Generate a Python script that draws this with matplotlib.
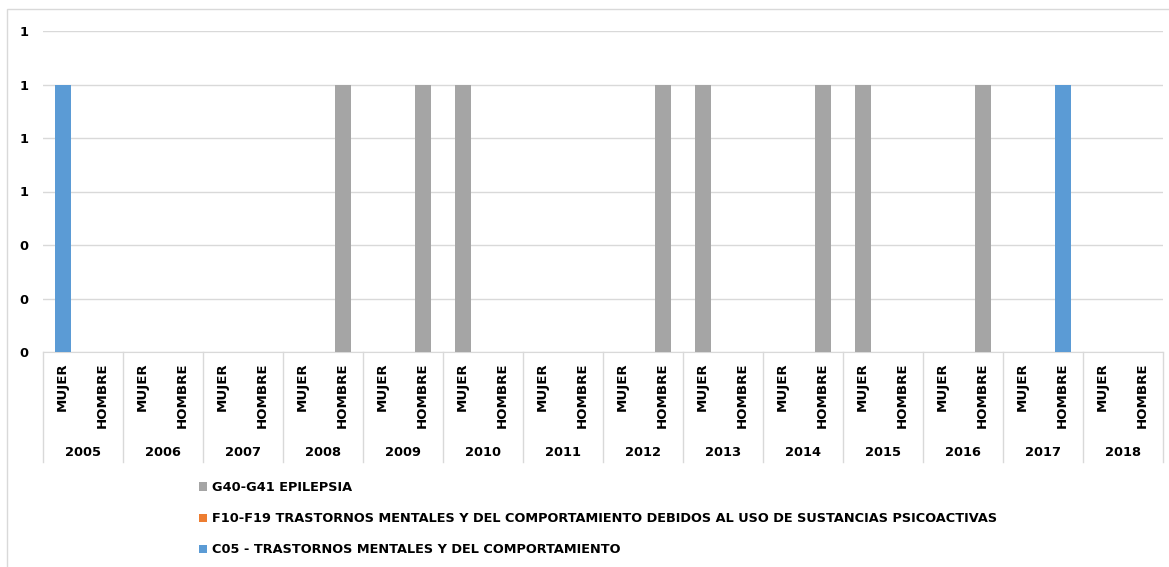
import numpy as np
import matplotlib.pyplot as plt
from matplotlib.lines import Line2D
from matplotlib.patches import Rectangle
from matplotlib.ticker import FormatStrFormatter
import matplotlib.transforms as mtransforms

# --- Data -------------------------------------------------------------------
YEARS = [str(y) for y in range(2005, 2019)]
SEXES = ["MUJER", "HOMBRE"]

# one value per (year, sex), ordered 2005 MUJER, 2005 HOMBRE, 2006 MUJER, ...
C05 = [1, 0,  0, 0,  0, 0,  0, 0,  0, 0,  0, 0,  0, 0,
       0, 0,  0, 0,  0, 0,  0, 0,  0, 0,  0, 1,  0, 0]
F10_F19 = [0] * 28
G40_G41 = [0, 0,  0, 0,  0, 0,  0, 1,  0, 1,  1, 0,  0, 0,
           0, 1,  1, 0,  0, 1,  1, 0,  0, 1,  0, 0,  0, 0]

SERIES_NAMES = [
    "C05 - TRASTORNOS MENTALES Y DEL COMPORTAMIENTO",
    "F10-F19 TRASTORNOS MENTALES Y DEL COMPORTAMIENTO DEBIDOS AL USO DE SUSTANCIAS PSICOACTIVAS",
    "G40-G41 EPILEPSIA",
]
COLORS = ["#5B9BD5", "#ED7D31", "#A5A5A5"]
YTICKS = [0, 0.2, 0.4, 0.6, 0.8, 1.0, 1.2]

GRID = "#D9D9D9"
W, H = 1169, 567
FS = 9.4

fig = plt.figure(figsize=(W / 100, H / 100), dpi=100)
ax = fig.add_axes([42.7 / W, 1 - 352 / H, 1120 / W, 321 / H])

x = np.arange(len(YEARS) * len(SEXES))
bottom = np.zeros(len(x))
handles = []
for name, vals, col in zip(SERIES_NAMES, [C05, F10_F19, G40_G41], COLORS):
    vals = np.array(vals, dtype=float)
    b = ax.bar(x, vals, width=0.4, bottom=bottom, color=col, label=name, zorder=3)
    handles.append(b)
    bottom += vals

ax.set_xlim(-0.5, len(x) - 0.5)
ax.set_ylim(0, 1.2)
ax.set_yticks(YTICKS)
ax.yaxis.set_major_formatter(FormatStrFormatter("%.0f"))
ax.tick_params(axis="y", length=0, pad=10, labelsize=FS)
for t in ax.get_yticklabels():
    t.set_fontweight("bold")
ax.set_xticks([])
ax.grid(axis="y", color=GRID, linewidth=1, zorder=0)
for s in ["top", "right", "left"]:
    ax.spines[s].set_visible(False)
ax.spines["bottom"].set_color(GRID)

# multi-level category axis
trans = mtransforms.blended_transform_factory(ax.transData, ax.transAxes)
px = 1 / 321
for i in range(len(x)):
    ax.text(x[i], -10 * px, SEXES[i % 2], rotation=90, ha="center", va="top",
            fontsize=FS + 0.2, fontweight="bold", transform=trans)
for k, yr in enumerate(YEARS):
    ax.text(2 * k + 0.5, -100 * px, yr, ha="center", va="center",
            fontsize=FS, fontweight="bold", transform=trans)
for k in range(len(YEARS) + 1):
    xb = 2 * k - 0.5
    ax.add_line(Line2D([xb, xb], [0, -110 * px], color=GRID, linewidth=1,
                       transform=trans, clip_on=False))

# legend (reversed order, as in the original)
leg = fig.legend(handles[::-1], SERIES_NAMES[::-1], loc="upper left",
                 bbox_to_anchor=(199 / W, 1 - 481 / H), frameon=False,
                 handlelength=0.6, handleheight=0.6, handletextpad=0.4,
                 labelspacing=1.42, borderpad=0, borderaxespad=0,
                 prop={"size": 9.25, "weight": "bold"})

# chart border
fig.patches.append(Rectangle((7 / W, -0.05), 1.1, 1 - 9 / H + 0.05,
                             transform=fig.transFigure, fill=False,
                             edgecolor=GRID, linewidth=1))

fig.savefig("out.png", dpi=100)
